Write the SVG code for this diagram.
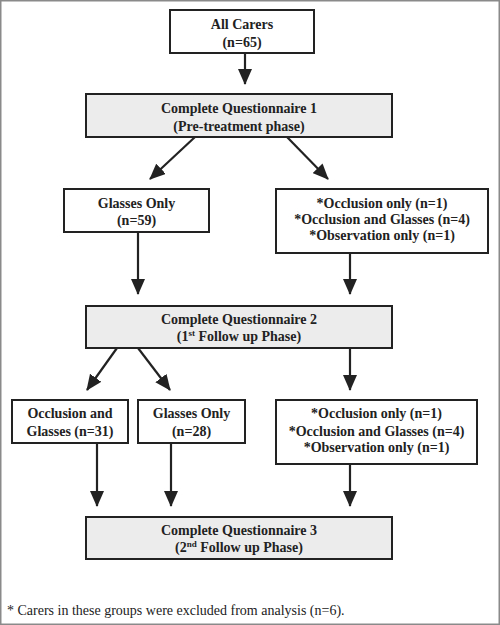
<svg xmlns="http://www.w3.org/2000/svg" width="500" height="625" viewBox="0 0 500 625">
<style>
.frame{fill:#fff;stroke:#8a8a8a;stroke-width:1.5}
.box{fill:#fff;stroke:#222;stroke-width:2}
.gbox{fill:#ececec;stroke:#222;stroke-width:2}
.t{font-family:"Liberation Serif","Times New Roman",serif;font-size:14px;font-weight:bold;fill:#222;text-anchor:middle}
.fn{font-family:"Liberation Serif","Times New Roman",serif;font-size:14px;fill:#222}
.sup{font-size:9px}
.c{stroke:#222;stroke-width:2.2;fill:none;marker-end:url(#ah)}
</style>
<defs>
<marker id="ah" markerUnits="userSpaceOnUse" markerWidth="16" markerHeight="14" refX="15" refY="7" orient="auto">
<path d="M0,0 L16,7 L0,14 z" fill="#222"/>
</marker>
</defs>
<rect class="frame" x="0.75" y="0.75" width="498.5" height="623.5"/>
<g id="connectors">
<line class="c" x1="245" y1="53" x2="245" y2="84"/>
<line class="c" x1="195" y1="137" x2="150" y2="179"/>
<line class="c" x1="287" y1="137" x2="328" y2="179"/>
<line class="c" x1="138" y1="232" x2="138" y2="294"/>
<line class="c" x1="350" y1="253" x2="350" y2="294"/>
<line class="c" x1="117" y1="348" x2="87" y2="390"/>
<line class="c" x1="138" y1="348" x2="170" y2="390"/>
<line class="c" x1="350" y1="348" x2="350" y2="390"/>
<line class="c" x1="97" y1="443" x2="97" y2="506"/>
<line class="c" x1="171" y1="443" x2="171" y2="506"/>
<line class="c" x1="350" y1="464" x2="350" y2="506"/>
</g>
<g id="all-carers">
<rect class="box" x="170" y="10" width="144" height="43"/>
<text class="t" x="242" y="29">All Carers</text>
<text class="t" x="242" y="47">(n=65)</text>
</g>
<g id="q1">
<rect class="gbox" x="86" y="94" width="306" height="43"/>
<text class="t" x="239" y="113">Complete Questionnaire 1</text>
<text class="t" x="239" y="131">(Pre-treatment phase)</text>
</g>
<g id="glasses-only-1">
<rect class="box" x="64" y="189" width="145" height="43"/>
<text class="t" x="136.5" y="208">Glasses Only</text>
<text class="t" x="136.5" y="225">(n=59)</text>
</g>
<g id="excluded-1">
<rect class="box" x="276" y="189" width="212" height="64"/>
<text class="t" x="382" y="208">*Occlusion only (n=1)</text>
<text class="t" x="382" y="224">*Occlusion and Glasses (n=4)</text>
<text class="t" x="382" y="240">*Observation only (n=1)</text>
</g>
<g id="q2">
<rect class="gbox" x="86" y="306" width="306" height="42"/>
<text class="t" x="239" y="324">Complete Questionnaire 2</text>
<text class="t" x="239" y="341">(1<tspan class="sup" dy="-5">st</tspan><tspan dy="5"> Follow up Phase)</tspan></text>
</g>
<g id="occlusion-glasses">
<rect class="box" x="12" y="400" width="116" height="43"/>
<text class="t" x="70" y="418">Occlusion and</text>
<text class="t" x="70" y="436">Glasses (n=31)</text>
</g>
<g id="glasses-only-2">
<rect class="box" x="138" y="400" width="107" height="43"/>
<text class="t" x="191.5" y="418">Glasses Only</text>
<text class="t" x="191.5" y="436">(n=28)</text>
</g>
<g id="excluded-2">
<rect class="box" x="276" y="400" width="201" height="64"/>
<text class="t" x="376.5" y="418">*Occlusion only (n=1)</text>
<text class="t" x="376.5" y="436">*Occlusion and Glasses (n=4)</text>
<text class="t" x="376.5" y="452">*Observation only (n=1)</text>
</g>
<g id="q3">
<rect class="gbox" x="86" y="517" width="306" height="42"/>
<text class="t" x="239" y="535">Complete Questionnaire 3</text>
<text class="t" x="239" y="552">(2<tspan class="sup" dy="-5">nd</tspan><tspan dy="5"> Follow up Phase)</tspan></text>
</g>
<text class="fn" x="7" y="615">* Carers in these groups were excluded from analysis (n=6).</text>
</svg>
